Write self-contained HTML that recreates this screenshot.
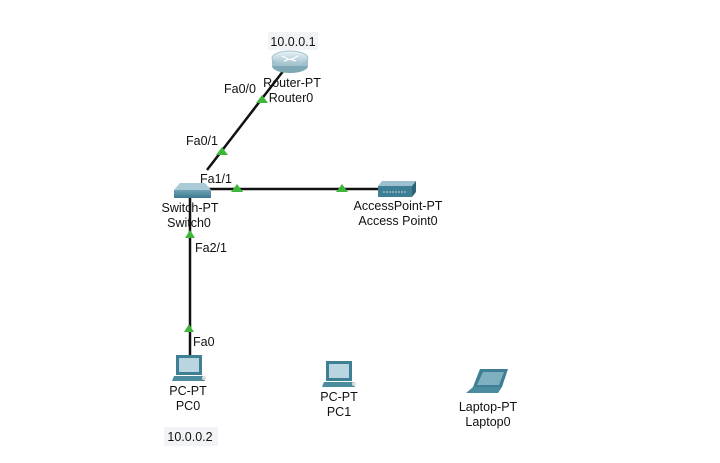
<!DOCTYPE html>
<html><head><meta charset="utf-8"><style>
html,body{margin:0;padding:0;background:#fff;}
svg{display:block;}
text{font-family:"Liberation Sans",sans-serif;font-size:12.5px;fill:#111;}
</style></head><body>
<svg width="720" height="463" viewBox="0 0 720 463">
<defs>
<linearGradient id="rg" x1="0" y1="0" x2="0" y2="1"><stop offset="0" stop-color="#eaf3f6"/><stop offset="1" stop-color="#9fc0cc"/></linearGradient>
<linearGradient id="sg" x1="0" y1="0" x2="0" y2="1"><stop offset="0" stop-color="#6ea3b5"/><stop offset="1" stop-color="#3b7a90"/></linearGradient>
</defs>
<!-- links -->
<line x1="284" y1="70" x2="207" y2="170" stroke="#111" stroke-width="2.5"/>
<line x1="208" y1="189" x2="380" y2="189" stroke="#111" stroke-width="2.5"/>
<line x1="190" y1="198" x2="190" y2="356" stroke="#111" stroke-width="2.5"/>
<!-- triangles -->
<g fill="#3fb53a">
<polygon points="262,95 256,103 268,103"/>
<polygon points="222,147 216,155 228,155"/>
<polygon points="237,184 231,192 243,192"/>
<polygon points="342,184 336,192 348,192"/>
<polygon points="190,230 185,238 195,238"/>
<polygon points="189,324 184,332 194,332"/>
</g>
<!-- router -->
<rect x="268" y="32" width="50" height="18" fill="#f1f3f7"/>
<text x="293" y="46" text-anchor="middle">10.0.0.1</text>
<ellipse cx="290" cy="66" rx="18" ry="7" fill="#7ea8b6"/>
<rect x="272" y="58" width="36" height="8" fill="#9fc0cc"/>
<ellipse cx="290" cy="58" rx="18" ry="7" fill="url(#rg)" stroke="#a8c4ce"/>
<path d="M282 56l6 3M298 56l-6 3M284 61l6-2M296 61l-6-2" stroke="#fff" stroke-width="1.2"/>
<text x="292" y="87" text-anchor="middle">Router-PT</text>
<text x="291" y="102" text-anchor="middle">Router0</text>
<text x="224" y="93">Fa0/0</text>
<text x="186" y="145">Fa0/1</text>
<!-- switch -->
<polygon points="180,183 205,183 211,190 174,190" fill="#a9cad6"/>
<rect x="174" y="190" width="37" height="8" fill="url(#sg)"/>
<text x="200" y="183">Fa1/1</text>
<text x="190" y="212" text-anchor="middle">Switch-PT</text>
<text x="189" y="227" text-anchor="middle">Switch0</text>
<text x="195" y="252">Fa2/1</text>
<text x="193" y="346">Fa0</text>
<!-- access point -->
<polygon points="382,181 416,181 412,186 378,186" fill="#9cc0cd"/>
<rect x="378" y="186" width="34" height="11" fill="#3f7f95"/>
<polygon points="412,186 416,181 416,192 412,197" fill="#2c6476"/>
<path d="M383 192h24" stroke="#bcd6df" stroke-dasharray="2 1"/>
<text x="398" y="210" text-anchor="middle">AccessPoint-PT</text>
<text x="398" y="225" text-anchor="middle">Access Point0</text>
<!-- PC0 -->
<g transform="translate(175,355)">
<rect x="1" y="0" width="26" height="20" fill="#3f7f95"/>
<rect x="4" y="3" width="20" height="14" fill="#b9d5df"/>
<polygon points="-1,21 28,21 30,26 -3,26" fill="#4a8ba0"/>
<circle cx="29" cy="23" r="2" fill="#ddd"/>
</g>
<text x="188" y="395" text-anchor="middle">PC-PT</text>
<text x="188" y="410" text-anchor="middle">PC0</text>
<rect x="164" y="427" width="54" height="19" fill="#f1f3f7"/>
<text x="190" y="441" text-anchor="middle">10.0.0.2</text>
<!-- PC1 -->
<g transform="translate(325,361)">
<rect x="1" y="0" width="26" height="20" fill="#3f7f95"/>
<rect x="4" y="3" width="20" height="14" fill="#b9d5df"/>
<polygon points="-1,21 28,21 30,26 -3,26" fill="#4a8ba0"/>
<circle cx="29" cy="23" r="2" fill="#ddd"/>
</g>
<text x="339" y="401" text-anchor="middle">PC-PT</text>
<text x="339" y="416" text-anchor="middle">PC1</text>
<!-- laptop -->
<polygon points="480,369 508,369 502,387 473,387" fill="#3f7f95"/>
<polygon points="483,372 504,372 499,385 477,385" fill="#7fb0c0"/>
<polygon points="473,387 502,387 498,393 466,393" fill="#4a8ba0"/>
<text x="488" y="411" text-anchor="middle">Laptop-PT</text>
<text x="488" y="426" text-anchor="middle">Laptop0</text>
</svg>
</body></html>
